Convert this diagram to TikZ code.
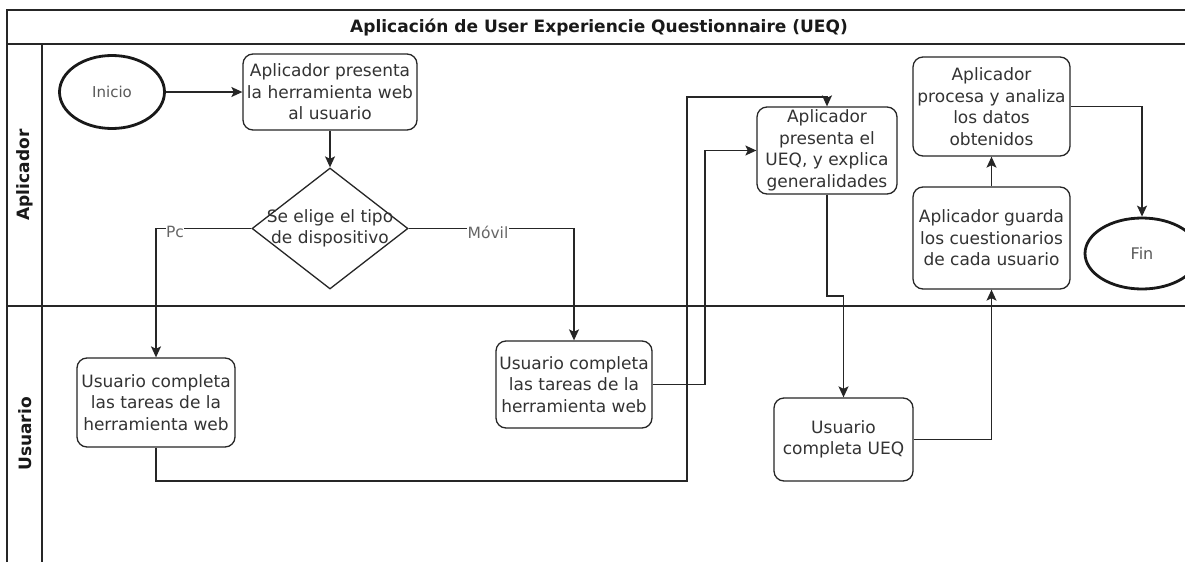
\documentclass[tikz,border=0pt]{standalone}
\usepackage{fontspec}
\setmainfont{DejaVu Sans}
\usetikzlibrary{arrows.meta,shapes.geometric}
\tikzset{
  box/.style={draw=black!85, line width=1.3pt, rounded corners=10pt, fill=white, align=center,
    text=black!80, font=\fontsize{17}{21.5}\selectfont, inner sep=0pt},
  term/.style={ellipse, draw=black!90, line width=2.8pt, fill=white, text=black!65,
    font=\fontsize{15}{17}\selectfont, inner sep=0pt},
  decision/.style={diamond, draw=black!85, line width=1.3pt, fill=white, text=black!80,
    font=\fontsize{17}{21.5}\selectfont, inner sep=0pt},
  conn/.style={line width=1.3pt, draw=black!85, -{Stealth[length=11pt,width=10pt,inset=2.5pt]}},
  lbl/.style={fill=white, inner sep=0.5pt, text=black!60, font=\fontsize{15.5}{18}\selectfont},
  lane/.style={line width=1.3pt, draw=black!85},
  lanetitle/.style={text=black!90, font=\fontsize{17}{20}\selectfont\bfseries},
}
\begin{document}
\begin{tikzpicture}[x=1pt,y=-1pt]
\useasboundingbox (0,0) rectangle (1185,562);
\fill[white] (0,0) rectangle (1185,562);
% pool frame
\draw[lane] (7,562) -- (7,10) -- (1190,10);
\draw[lane] (7,44) -- (1190,44);
\draw[lane] (42,44) -- (42,562);
\draw[lane] (7,306) -- (1190,306);
\node[lanetitle] (title) at (599,27) {Aplicación de User Experiencie Questionnaire (UEQ)};
\node[lanetitle, rotate=90] (lapl) at (25,175) {Aplicador};
\node[lanetitle, rotate=90] (lusr) at (25,434) {Usuario};
% nodes
\node[term, minimum width=105, minimum height=73] (ini) at (112,92) {Inicio};
\node[box, minimum width=174, minimum height=76] (b1) at (330,92) {Aplicador presenta\\la herramienta web\\al usuario};
\node[decision, minimum width=156, minimum height=121] (dia) at (330,228.5)
  {\makebox[0pt]{\begin{tabular}{@{}c@{}}Se elige el tipo\\de dispositivo\end{tabular}}};
\node[box, minimum width=158, minimum height=89] (usr1) at (156,402.5) {Usuario completa\\las tareas de la\\herramienta web};
\node[box, minimum width=156, minimum height=87] (usr2) at (574,384.5) {Usuario completa\\las tareas de la\\herramienta web};
\node[box, minimum width=140, minimum height=87] (ueq) at (827,150.5) {Aplicador\\presenta el\\UEQ, y explica\\generalidades};
\node[box, minimum width=139, minimum height=83] (uequ) at (843.5,439.5) {Usuario\\completa UEQ};
\node[box, minimum width=157, minimum height=99] (pro) at (991.5,106.5) {Aplicador\\procesa y analiza\\los datos\\obtenidos};
\node[box, minimum width=157, minimum height=102] (gua) at (991.5,238) {Aplicador guarda\\los cuestionarios\\de cada usuario};
\node[term, minimum width=114, minimum height=71, font=\fontsize{16}{18}\selectfont] (fin) at (1142,253.5) {Fin};
% helper coordinates
\coordinate (p1) at (687,481);
\coordinate (p2) at (687,97);
\coordinate (q1) at (705,0);
\coordinate (r1) at (0,296);
% connectors
\draw[conn] (ini) -- (b1);
\draw[conn] (b1) -- (dia);
\draw[conn] (dia.west) -| (usr1.north);
\draw[conn] (dia.east) -| (usr2.north);
\draw[conn] (usr1.south) |- (p1) -- (p2) -| (ueq.north);
\draw[conn] (usr2.east) -- (usr2.east -| q1) -- (q1 |- ueq.west) -- (ueq.west);
\draw[conn] (ueq.south) -- (ueq.south |- r1) -- (r1 -| uequ.north) -- (uequ.north);
\draw[conn] (uequ.east) -| (gua.south);
\draw[conn] (gua) -- (pro);
\draw[conn] (pro.east) -- (pro.east -| fin.north) -- (fin.north);
% edge labels
\node[lbl] (lpc) at (175,232) {Pc};
\node[lbl] (lmov) at (488,232) {Móvil};
\end{tikzpicture}
\end{document}
